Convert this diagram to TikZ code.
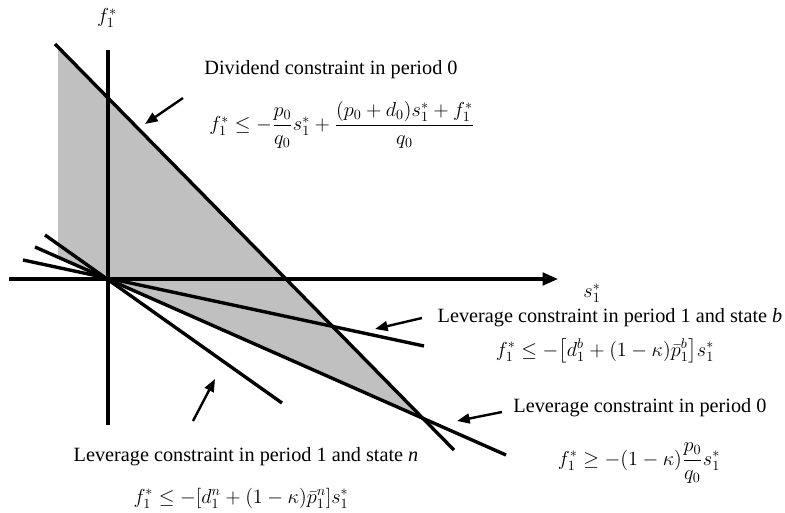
\documentclass[tikz,border=0pt]{standalone}
\usepackage{amsmath}
\usepackage{fontspec}
\setmainfont{Liberation Serif}
\usetikzlibrary{arrows.meta, calc}
\definecolor{myshade}{RGB}{192,192,192}
\definecolor{myink}{RGB}{0,0,0}
\tikzset{
  axisline/.style={line width=2.2pt, color=myink},
  axisarrow/.style={line width=2.2pt, color=myink, -{Triangle[length=11pt, width=9pt]}},
  conline/.style={line width=2.4pt, color=myink},
  pointer/.style={line width=1.7pt, color=myink, -{Triangle[length=9pt, width=7pt]}},
  txt/.style={font=\fontsize{14.4}{17}\selectfont, inner sep=0pt},
  eqn/.style={font=\fontsize{14.4}{17}\selectfont, inner sep=0pt}
}

\begin{document}
\begin{tikzpicture}[x=0.025cm, y=-0.025cm]
  \useasboundingbox (0,0) rectangle (785,513);

  % ── Key points ──────────────────────────────────────────────────────────
  \coordinate (O)     at (108,279);
  \coordinate (ytop)  at (108,50);
  \coordinate (ybot)  at (108,425);
  \coordinate (xleft) at (9,279);
  \coordinate (xtip)  at (558,279);

  \coordinate (divA) at (55,44);    \coordinate (divB) at (454,450);
  \coordinate (levA) at (35,247);   \coordinate (levB) at (506,455);
  \coordinate (levbA) at (23,260);  \coordinate (levbB) at (424,346);
  \coordinate (levnA) at (45,235);  \coordinate (levnB) at (282,403);

  % ── Feasible region ─────────────────────────────────────────────────────
  \fill[myshade] (58,47) -- (425.6,419.4) -- (58,256.9) -- cycle;

  % ── Axes ────────────────────────────────────────────────────────────────
  \draw[axisline]  (ybot) -- (ytop);
  \draw[axisarrow] (xleft) -- (xtip);
  \node[txt] (flab) at (107,18) {$f_1^{*}$};
  \node[txt] (slab) at (592,293) {$s_1^{*}$};

  % ── Constraint lines ────────────────────────────────────────────────────
  \draw[conline] (divA)  -- (divB);
  \draw[conline] (levA)  -- (levB);
  \draw[conline] (levbA) -- (levbB);
  \draw[conline] (levnA) -- (levnB);

  % ── Dividend constraint ─────────────────────────────────────────────────
  \node[txt] (divtxt) at (331,70) {Dividend constraint in period 0};
  \node[eqn] (diveq)  at (342,125)
    {$f_1^* \le -\dfrac{p_0}{q_0}s_1^* + \dfrac{(p_0+d_0)s_1^*+f_1^*}{q_0}$};
  \coordinate (divtail) at (183,98);
  \coordinate (divhead) at (145,124);
  \draw[pointer] (divtail) -- (divhead);

  % ── Leverage constraint, period 1, state b ──────────────────────────────
  \node[txt] (levbtxt) at (610,318) {Leverage constraint in period 1 and state \textit{b}};
  \node[eqn] (levbeq)  at (605,351)
    {$f_1^* \le -\bigl[d_1^b + (1-\kappa)\bar{p}_1^b\bigr]s_1^*$};
  \coordinate (levbtail) at (422,318);
  \coordinate (levbhead) at (375,329);
  \draw[pointer] (levbtail) -- (levbhead);

  % ── Leverage constraint, period 0 ───────────────────────────────────────
  \node[txt] (levtxt) at (640,408) {Leverage constraint in period 0};
  \node[eqn] (leveq)  at (639,463)
    {$f_1^* \ge -(1-\kappa)\dfrac{p_0}{q_0}s_1^*$};
  \coordinate (levtail) at (502,412);
  \coordinate (levhead) at (457,421);
  \draw[pointer] (levtail) -- (levhead);

  % ── Leverage constraint, period 1, state n ──────────────────────────────
  \node[txt] (levntxt) at (246,457) {Leverage constraint in period 1 and state \textit{n}};
  \node[eqn] (levneq)  at (241,498)
    {$f_1^* \le -[d_1^n + (1-\kappa)\bar{p}_1^n]s_1^*$};
  \coordinate (levntail) at (193,421);
  \coordinate (levnhead) at (215,379);
  \draw[pointer] (levntail) -- (levnhead);
\end{tikzpicture}
\end{document}
